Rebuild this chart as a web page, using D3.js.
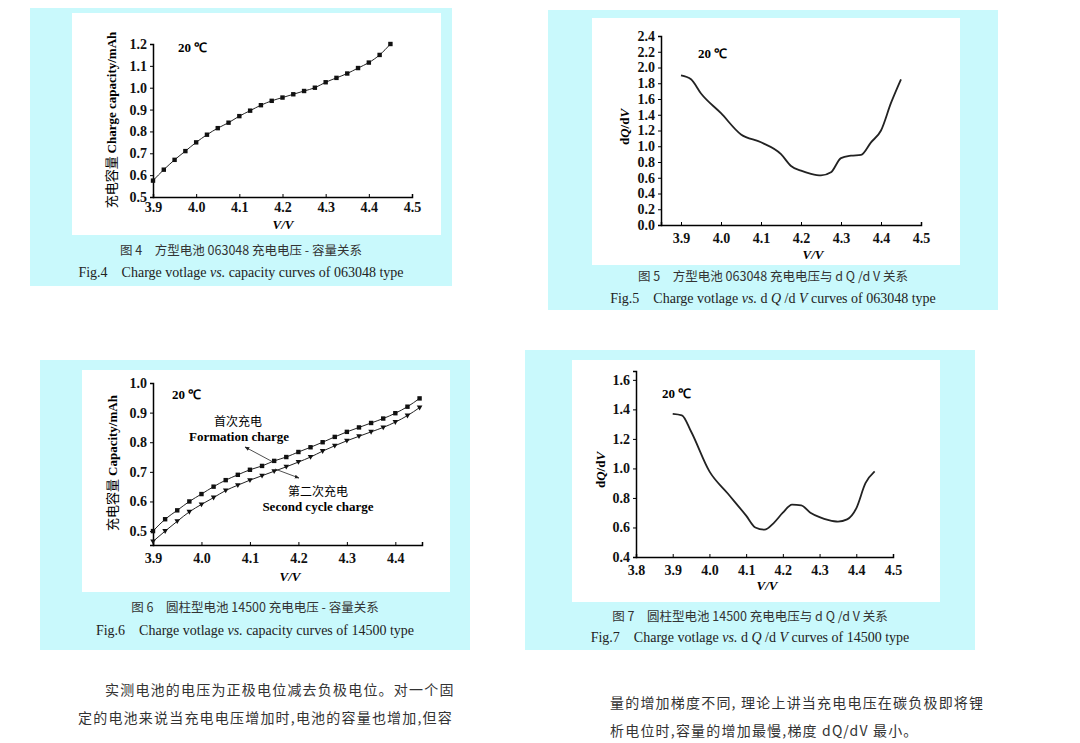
<!DOCTYPE html>
<html><head><meta charset="utf-8">
<script src="https://cdn.jsdelivr.net/npm/d3@7"></script>
<style>
body{margin:0;background:#fff;}
svg text{font-family:"Liberation Serif",serif;}
.tick text{font-weight:bold;font-size:14px;}
.cjk{font-family:"Noto Sans CJK SC",sans-serif;}
</style></head><body>
<svg id="page" width="1080" height="743"></svg>
<script>
// ---- data ----
var voltSteps = [3.9,3.925,3.95,3.975,4.0,4.025,4.05,4.075,4.1,4.125,4.15,4.175,4.2,4.225,4.25,4.275,4.3,4.325,4.35,4.375,4.4,4.425,4.45];
var fig4Cap = [0.575,0.625,0.67,0.71,0.75,0.785,0.815,0.84,0.87,0.895,0.92,0.94,0.955,0.97,0.985,1.0,1.025,1.045,1.065,1.09,1.115,1.15,1.2];

var fig5V = [3.9,3.925,3.95,4.0,4.05,4.1,4.15,4.175,4.2,4.225,4.25,4.275,4.3,4.325,4.35,4.375,4.4,4.425,4.45];
var fig5dQ = [1.9,1.85,1.67,1.42,1.15,1.05,0.9,0.75,0.69,0.65,0.63,0.67,0.85,0.88,0.89,1.05,1.2,1.55,1.85];

var fig6First = [0.5,0.54,0.57,0.6,0.625,0.65,0.672,0.69,0.707,0.72,0.737,0.75,0.767,0.783,0.8,0.818,0.835,0.85,0.865,0.88,0.898,0.92,0.948];
var fig6Second = [0.465,0.5,0.533,0.565,0.59,0.613,0.637,0.655,0.672,0.687,0.702,0.717,0.733,0.75,0.77,0.788,0.805,0.82,0.835,0.85,0.868,0.89,0.917];

var fig7V = [3.9,3.925,3.95,4.0,4.05,4.1,4.125,4.15,4.175,4.2,4.225,4.25,4.275,4.3,4.325,4.35,4.375,4.4,4.425,4.45];
var fig7dQ = [1.37,1.36,1.25,0.98,0.83,0.68,0.6,0.585,0.63,0.7,0.755,0.75,0.7,0.67,0.65,0.64,0.655,0.73,0.9,0.98];

var svg = d3.select("#page");
var cyan = "#c9f9fc";

function panel(c) {
    svg.append("rect").attr("x", c.box[0]).attr("y", c.box[1]).attr("width", c.box[2]).attr("height", c.box[3]).attr("fill", cyan);
    svg.append("rect").attr("x", c.white[0]).attr("y", c.white[1]).attr("width", c.white[2]).attr("height", c.white[3]).attr("fill", "#fff");

    var x = d3.scaleLinear().domain(c.xd).range([c.x0, c.x1]);
    var y = d3.scaleLinear().domain(c.yd).range([c.y0, c.y1]);
    var g = svg.append("g");

    g.append("g").attr("transform", "translate(0," + c.y0 + ")")
        .call(d3.axisBottom(x).tickValues(c.xt).tickFormat(d3.format(".1f")).tickSize(-3).tickPadding(c.xpad || 8))
        .call(function(a){ a.select(".domain").attr("stroke-width", 1.5); });
    g.append("g").attr("transform", "translate(" + c.x0 + ",0)")
        .call(d3.axisLeft(y).tickValues(c.yt).tickFormat(d3.format(".1f")).tickSize(3).tickPadding(3))
        .call(function(a){ a.select(".domain").attr("stroke-width", 1.5); });
    g.selectAll(".tick text").attr("fill", "#111");

    var line = d3.line().x(function(d){ return x(d[0]); }).y(function(d){ return y(d[1]); }).curve(d3.curveMonotoneX);
    c.series.forEach(function(s) {
        var pts = s.xs.map(function(v, i){ return [v, s.ys[i]]; });
        g.append("path").attr("d", line(pts)).attr("fill", "none").attr("stroke", "#222").attr("stroke-width", s.w || 1);
        if (s.mark == "dot") {
            g.selectAll(null).data(pts).enter().append("rect")
                .attr("x", function(d){ return x(d[0]) - 2.2; }).attr("y", function(d){ return y(d[1]) - 2.2; })
                .attr("width", 4.4).attr("height", 4.4).attr("fill", "#111");
        } else if (s.mark == "tri") {
            g.selectAll(null).data(pts).enter().append("path")
                .attr("transform", function(d){ return "translate(" + x(d[0]) + "," + y(d[1]) + ")"; })
                .attr("d", "M-2.8,-2L2.8,-2L0,2.8Z").attr("fill", "#111");
        }
    });

    g.append("text").attr("x", c.temp[0]).attr("y", c.temp[1]).attr("font-weight", "bold").attr("font-size", 13).text("20 ℃");
    g.append("text").attr("x", c.vlab[0]).attr("y", c.vlab[1]).attr("text-anchor", "middle").attr("font-weight", "bold")
        .attr("font-style", "italic").attr("font-size", 13).text("V/V");
    g.append("text").attr("transform", "translate(" + c.ylab[0] + "," + c.ylab[1] + ") rotate(-90)")
        .attr("text-anchor", "middle").attr("font-weight", "bold").attr("font-size", 13)
        .selectAll(null).data(c.ylabParts).enter().append("tspan")
        .attr("class", function(d){ return d.cjk ? "cjk" : null; })
        .attr("font-style", function(d){ return d.it ? "italic" : null; })
        .attr("font-weight", function(d){ return d.cjk ? "normal" : "bold"; })
        .text(function(d){ return d.t; });

    var cx = (c.box[0] * 2 + c.box[2]) / 2;
    g.append("text").attr("class", "cjk").attr("x", cx).attr("y", c.cap[0]).attr("text-anchor", "middle")
        .attr("font-size", 12.5).attr("fill", "#333").text(c.cn);
    g.append("text").attr("x", cx).attr("y", c.cap[1]).attr("text-anchor", "middle")
        .attr("font-size", 14).attr("fill", "#222").html(c.en);
    return {x: x, y: y, g: g};
}

panel({
    box: [30, 8, 422, 278], white: [72, 13, 369, 222],
    xd: [3.9, 4.5], x0: 153, x1: 412, yd: [0.5, 1.2], y0: 197, y1: 44, xpad: 5,
    xt: d3.range(3.9, 4.51, 0.1), yt: d3.range(0.5, 1.21, 0.1),
    series: [{xs: voltSteps, ys: fig4Cap, mark: "dot"}],
    temp: [178, 52], vlab: [283, 229], ylab: [116, 120],
    ylabParts: [{t: "充电容量 ", cjk: true}, {t: "Charge capacity/mAh"}],
    cap: [255, 277], cn: "图 4　方型电池 063048 充电电压 - 容量关系",
    en: "Fig.4　Charge votlage <tspan font-style='italic'>vs.</tspan> capacity curves  of 063048 type"
});

panel({
    box: [548, 10, 450, 300], white: [592, 18, 368, 247],
    xd: [3.85, 4.5], x0: 661, x1: 921, yd: [0, 2.4], y0: 225, y1: 36,
    xt: d3.range(3.9, 4.51, 0.1), yt: d3.range(0, 2.41, 0.2),
    series: [{xs: fig5V, ys: fig5dQ, w: 1.8}],
    temp: [698, 58], vlab: [813, 259], ylab: [629, 127],
    ylabParts: [{t: "d"}, {t: "Q", it: true}, {t: "/d"}, {t: "V", it: true}],
    cap: [281, 303], cn: "图 5　方型电池 063048 充电电压与 d Q /d V 关系",
    en: "Fig.5　Charge votlage <tspan font-style='italic'>vs.</tspan> d <tspan font-style='italic'>Q</tspan> /d <tspan font-style='italic'>V</tspan> curves  of 063048 type"
});

var p6 = panel({
    box: [40, 360, 430, 290], white: [82, 370, 368, 222],
    xd: [3.9, 4.455], x0: 153, x1: 422, yd: [0.453, 1.0], y0: 545, y1: 383,
    xt: d3.range(3.9, 4.41, 0.1), yt: d3.range(0.5, 1.01, 0.1),
    series: [{xs: voltSteps, ys: fig6First, mark: "dot"}, {xs: voltSteps, ys: fig6Second, mark: "tri"}],
    temp: [172, 399], vlab: [290, 581], ylab: [117, 463],
    ylabParts: [{t: "充电容量 ", cjk: true}, {t: "Capacity/mAh"}],
    cap: [612, 635], cn: "图 6　圆柱型电池 14500 充电电压 - 容量关系",
    en: "Fig.6　Charge votlage <tspan font-style='italic'>vs.</tspan> capacity curves  of 14500 type"
});
// annotations of Fig.6
var ann = p6.g;
ann.append("text").attr("class", "cjk").attr("x", 238).attr("y", 426).attr("text-anchor", "middle").attr("font-size", 12).text("首次充电");
ann.append("text").attr("x", 239).attr("y", 441).attr("text-anchor", "middle").attr("font-weight", "bold").attr("font-size", 13).text("Formation charge");
ann.append("text").attr("class", "cjk").attr("x", 318).attr("y", 496).attr("text-anchor", "middle").attr("font-size", 12).text("第二次充电");
ann.append("text").attr("x", 318).attr("y", 511).attr("text-anchor", "middle").attr("font-weight", "bold").attr("font-size", 13).text("Second cycle charge");
svg.append("defs").append("marker").attr("id", "ah").attr("viewBox", "0 0 10 10").attr("refX", 9).attr("refY", 5)
    .attr("markerWidth", 6).attr("markerHeight", 6).attr("orient", "auto")
    .append("path").attr("d", "M0,1L10,5L0,9Z").attr("fill", "#222");
ann.append("line").attr("x1", 273).attr("y1", 462).attr("x2", 245).attr("y2", 447).attr("stroke", "#222").attr("stroke-width", 0.8).attr("marker-end", "url(#ah)");
ann.append("line").attr("x1", 275).attr("y1", 469).attr("x2", 299).attr("y2", 478).attr("stroke", "#222").attr("stroke-width", 0.8).attr("marker-end", "url(#ah)");

panel({
    box: [525, 350, 450, 300], white: [572, 360, 368, 242],
    xd: [3.8, 4.5], x0: 636, x1: 893, yd: [0.4, 1.66], y0: 557, y1: 371,
    xt: d3.range(3.8, 4.51, 0.1), yt: d3.range(0.4, 1.61, 0.2),
    series: [{xs: fig7V, ys: fig7dQ, w: 1.8}],
    temp: [662, 398], vlab: [767, 590], ylab: [605, 470],
    ylabParts: [{t: "d"}, {t: "Q", it: true}, {t: "/d"}, {t: "V", it: true}],
    cap: [621, 642], cn: "图 7　圆柱型电池 14500 充电电压与 d Q /d V 关系",
    en: "Fig.7　Charge votlage <tspan font-style='italic'>vs.</tspan> d <tspan font-style='italic'>Q</tspan> /d <tspan font-style='italic'>V</tspan> curves  of 14500 type"
});

// body text
var body = [
    [105, 695, "实测电池的电压为正极电位减去负极电位。对一个固"],
    [78, 723, "定的电池来说当充电电压增加时,电池的容量也增加,但容"],
    [610, 708, "量的增加梯度不同, 理论上讲当充电电压在碳负极即将锂"],
    [610, 736, "析电位时,容量的增加最慢,梯度 dQ/dV 最小。"]
];
svg.selectAll(null).data(body).enter().append("text").attr("class", "cjk")
    .attr("x", function(d){ return d[0]; }).attr("y", function(d){ return d[1]; })
    .attr("font-size", 14).attr("fill", "#333").attr("letter-spacing", 1.2).text(function(d){ return d[2]; });
</script></body></html>
